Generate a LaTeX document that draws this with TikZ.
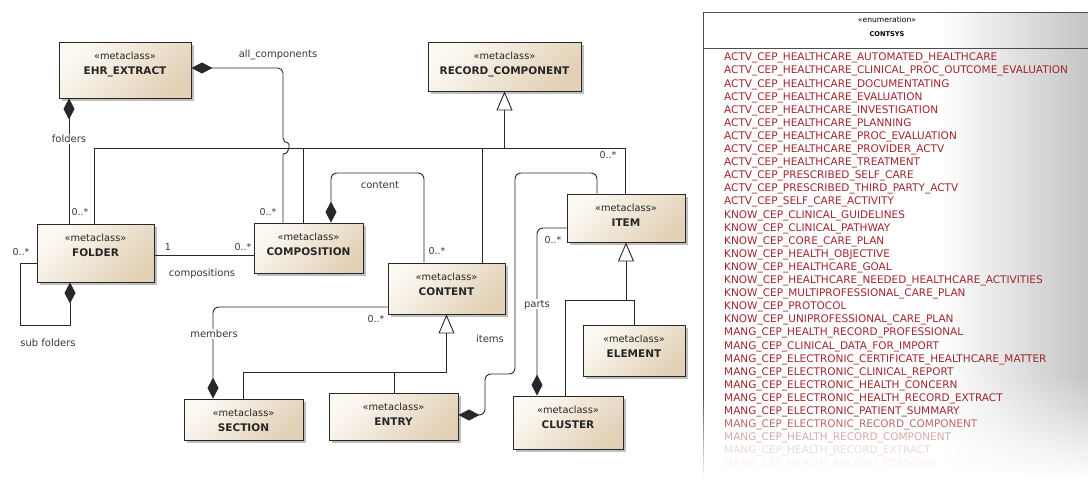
\documentclass[tikz,border=0pt]{standalone}
\usepackage{fontspec}
\setmainfont{DejaVu Sans}
\usetikzlibrary{arrows.meta,shadows}
\definecolor{linec}{RGB}{40,40,40}
\definecolor{boxlight}{RGB}{252,249,243}
\definecolor{boxdark}{RGB}{226,209,183}
\definecolor{enumred}{RGB}{160,38,45}
\definecolor{lblc}{RGB}{55,55,60}
\tikzset{
  umlbox/.style={draw=linec, line width=0.9pt, top color=boxlight, bottom color=boxdark, shading angle=45,
    drop shadow={shadow xshift=2.5pt, shadow yshift=-2.5pt, fill=black, opacity=0.25}, inner sep=0pt},
  stereo/.style={font=\fontsize{9.8}{11}\selectfont, text=black!85, inner sep=0pt, text height=7pt, text depth=0pt},
  cname/.style={font=\bfseries\fontsize{10.5}{12}\selectfont, text=black!85, inner sep=0pt, text height=7.6pt, text depth=0pt},
  lbl/.style={font=\fontsize{10}{12}\selectfont, text=lblc, inner sep=1.5pt, text height=7pt, text depth=0pt},
  mult/.style={font=\fontsize{9.5}{11}\selectfont, text=lblc, inner sep=0pt, text height=6.8pt, text depth=0pt},
  assoc/.style={draw=linec, line width=0.9pt},
  compo/.style={assoc, arrows={Diamond[length=21pt,width=11pt]-}},
  gener/.style={assoc, arrows={Triangle[length=19pt,width=16pt,fill=white]-}},
  enumtxt/.style={font=\fontsize{10.5}{12}\selectfont, anchor=west, inner sep=0pt, text height=7.6pt, text depth=0pt},
}
\newcommand\umlclass[6]{%
  \node[umlbox, minimum width=#4pt, minimum height=#5pt] (#1) at (#2,#3) {};
  \node[stereo] (#1-s) at ([yshift=-14pt]#1.north) {«metaclass»};
  \node[cname] (#1-n) at ([yshift=-29pt]#1.north) {#6};
}
\begin{document}
\begin{tikzpicture}[x=1pt,y=-1pt]
\useasboundingbox (0,0) rectangle (1088,479);

% ---------- enumeration panel background ----------
\foreach \yy in {12,16,...,476}{
  \pgfmathtruncatemacro\p{max(0,min(1,(478-\yy)/100))*23}
  \shade[left color=white, right color=black!\p] (940,\yy) rectangle (1088,\yy+4.6);
}
\draw[black!70, line width=0.9pt] (703,12) -- (1088,12);
\draw[black!70, line width=0.9pt] (703,48) -- (1088,48);
\draw[black!70, line width=0.9pt] (703,12) -- (703,392);
\foreach \yy in {392,396,...,472}{
  \pgfmathtruncatemacro\q{max(0,(478-\yy)/86)*70}
  \draw[black!\q, line width=0.9pt] (703,\yy) -- (703,\yy+4);
}
\node[font=\fontsize{7.6}{9}\selectfont, inner sep=0pt] (en-s) at (887,20) {«enumeration»};
\node[font=\bfseries\fontsize{6.6}{8}\selectfont, inner sep=0pt] (en-n) at (887,34) {CONTSYS};
\foreach \t [count=\i] in {
ACTV\_CEP\_HEALTHCARE\_AUTOMATED\_HEALTHCARE,
ACTV\_CEP\_HEALTHCARE\_CLINICAL\_PROC\_OUTCOME\_EVALUATION,
ACTV\_CEP\_HEALTHCARE\_DOCUMENTATING,
ACTV\_CEP\_HEALTHCARE\_EVALUATION,
ACTV\_CEP\_HEALTHCARE\_INVESTIGATION,
ACTV\_CEP\_HEALTHCARE\_PLANNING,
ACTV\_CEP\_HEALTHCARE\_PROC\_EVALUATION,
ACTV\_CEP\_HEALTHCARE\_PROVIDER\_ACTV,
ACTV\_CEP\_HEALTHCARE\_TREATMENT,
ACTV\_CEP\_PRESCRIBED\_SELF\_CARE,
ACTV\_CEP\_PRESCRIBED\_THIRD\_PARTY\_ACTV,
ACTV\_CEP\_SELF\_CARE\_ACTIVITY,
KNOW\_CEP\_CLINICAL\_GUIDELINES,
KNOW\_CEP\_CLINICAL\_PATHWAY,
KNOW\_CEP\_CORE\_CARE\_PLAN,
KNOW\_CEP\_HEALTH\_OBJECTIVE,
KNOW\_CEP\_HEALTHCARE\_GOAL,
KNOW\_CEP\_HEALTHCARE\_NEEDED\_HEALTHCARE\_ACTIVITIES,
KNOW\_CEP\_MULTIPROFESSIONAL\_CARE\_PLAN,
KNOW\_CEP\_PROTOCOL,
KNOW\_CEP\_UNIPROFESSIONAL\_CARE\_PLAN,
MANG\_CEP\_HEALTH\_RECORD\_PROFESSIONAL,
MANG\_CEP\_CLINICAL\_DATA\_FOR\_IMPORT,
MANG\_CEP\_ELECTRONIC\_CERTIFICATE\_HEALTHCARE\_MATTER,
MANG\_CEP\_ELECTRONIC\_CLINICAL\_REPORT,
MANG\_CEP\_ELECTRONIC\_HEALTH\_CONCERN,
MANG\_CEP\_ELECTRONIC\_HEALTH\_RECORD\_EXTRACT,
MANG\_CEP\_ELECTRONIC\_PATIENT\_SUMMARY,
MANG\_CEP\_ELECTRONIC\_RECORD\_COMPONENT,
MANG\_CEP\_HEALTH\_RECORD\_COMPONENT,
MANG\_CEP\_HEALTH\_RECORD\_EXTRACT,
MANG\_CEP\_HEALTH\_RECORD\_PERSONAL}{
  \pgfmathtruncatemacro\op{\i<29 ? 100 : (\i==29 ? 70 : (\i==30 ? 40 : (\i==31 ? 17 : 6)))}
  \node[enumtxt, text=enumred!\op] (e\i) at (724,{57+13.1*(\i-1)}) {\t};
}

% ---------- classes ----------
\umlclass{ehr}{125}{70}{132}{56}{EHR\_EXTRACT}
\umlclass{rc}{504.5}{66.5}{153}{49}{RECORD\_COMPONENT}
\umlclass{folder}{95.5}{253}{117}{58}{FOLDER}
\umlclass{comp}{308.5}{248}{109}{50}{COMPOSITION}
\umlclass{content}{446.5}{288.5}{117}{51}{CONTENT}
\umlclass{item}{626}{218}{118}{48}{ITEM}
\umlclass{element}{634}{350.5}{102}{51}{ELEMENT}
\umlclass{section}{243.5}{419.5}{119}{41}{SECTION}
\umlclass{entry}{393.5}{416.5}{129}{47}{ENTRY}
\umlclass{cluster}{568}{422.5}{110}{53}{CLUSTER}

% ---------- generalizations ----------
\coordinate (gj) at (504,148);
\draw[gener] (rc.south) -- (rc.south |- gj);
\draw[assoc] (94,0 |- folder.north) -- (94,148) -- (625,148) -- (625,0 |- item.north);
\draw[assoc] (303,148) -- (303,0 |- comp.north);
\draw[assoc] (482,148) -- (482,0 |- content.north);

\coordinate (gc) at (447,372);
\draw[gener] (content.south) -- (content.south |- gc);
\draw[assoc] (243,0 |- section.north) -- (243,372) -- (447,372);
\draw[assoc] (394,372) -- (394,0 |- entry.north);

\coordinate (gi) at (626,300);
\draw[gener] (item.south) -- (item.south |- gi);
\draw[assoc] (565,0 |- cluster.north) -- (565,300) -- (634,300) -- (element.north);

% ---------- compositions ----------
\draw[compo] (69,0 |- ehr.south) -- (69,0 |- folder.north);
\draw[compo] (ehr.east |- 0,68) [rounded corners=5pt] -- (283,68) -- (283,143) [sharp corners]
  .. controls (290,143) and (290,154) .. (283,154) -- (283,0 |- comp.north);
\draw[compo, rounded corners=6pt] (331,0 |- comp.north) -- (331,173) -- (424,173) -- (424,0 |- content.north);
\draw[assoc] (folder.east |- 0,255) -- (comp.west |- 0,255);
\draw[compo] (70,0 |- folder.south) -- (70,325) -- (20,325) -- (20,263) -- (folder.west |- 0,263);
\draw[compo, rounded corners=6pt] (213,0 |- section.north) -- (213,307) -- (content.west |- 0,307);
\draw[compo, rounded corners=6pt] (537,0 |- cluster.north) -- (537,228) -- (item.west |- 0,228);
\draw[compo, rounded corners=6pt] (entry.east |- 0,415) -- (485,415) -- (485,374) -- (515,374)
  -- (515,173) -- (597,173) -- (597,0 |- item.north);

% ---------- labels ----------
\node[lbl] (l-allc) at (278,54) {all\_components};
\node[lbl, fill=white] (l-fold) at (69,139) {folders};
\node[mult] (m1) at (80,212) {0..*};
\node[mult] (m2) at (268,212) {0..*};
\node[lbl] (l-cont) at (380,185) {content};
\node[mult] (m3) at (437,251) {0..*};
\node[mult] (m4) at (168,247) {1};
\node[mult] (m5) at (243,247) {0..*};
\node[lbl] (l-comps) at (202,273) {compositions};
\node[mult] (m6) at (21,252) {0..*};
\node[lbl] (l-sub) at (48,343) {sub folders};
\node[lbl, fill=white] (l-mem) at (214,334) {members};
\node[mult] (m7) at (376,319) {0..*};
\node[lbl, fill=white] (l-parts) at (537,304) {parts};
\node[mult] (m8) at (553,240) {0..*};
\node[lbl] (l-items) at (490,339) {items};
\node[mult] (m9) at (608,155) {0..*};
\end{tikzpicture}
\end{document}
